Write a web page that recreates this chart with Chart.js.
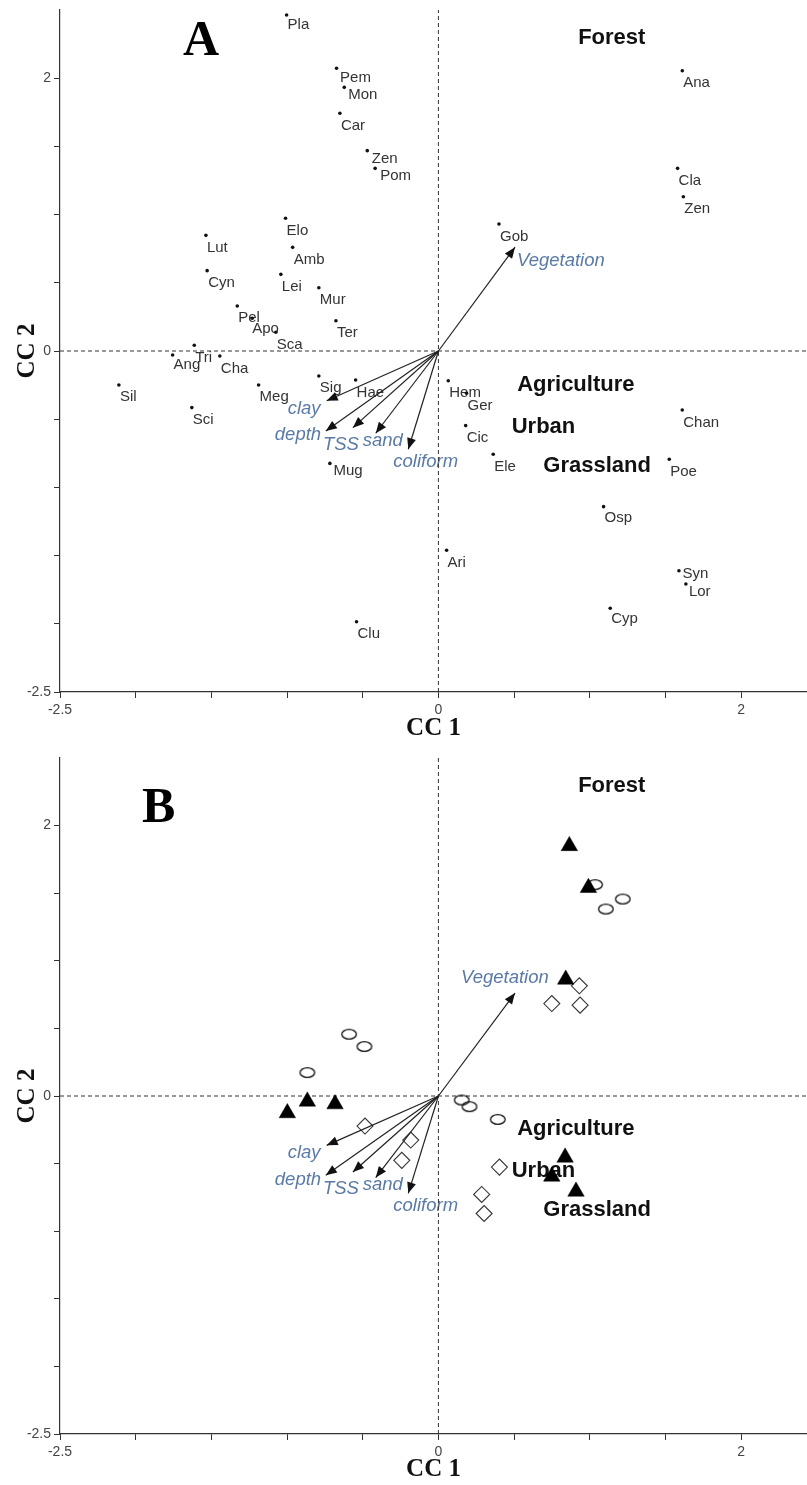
<!DOCTYPE html>
<html>
<head>
<meta charset="utf-8">
<script src="https://cdn.jsdelivr.net/npm/chart.js@4.4.1/dist/chart.umd.min.js"></script>
<style>
html,body{margin:0;padding:0;background:#fff;overflow:hidden;}
canvas{display:block;}
</style>
</head>
<body>
<canvas id="chartA" width="807" height="745"></canvas>
<canvas id="chartB" width="807" height="740"></canvas>
<script>
// ---------------- DATA ----------------
const axisTicks = [-2.5, -2, -1.5, -1, -0.5, 0, 0.5, 1, 1.5, 2];
const tickLabelValues = [-2.5, 0, 2];

// Panel A: species scores
const speciesNames = ['Pla','Pem','Mon','Car','Zen','Pom','Elo','Lut','Amb','Cyn','Lei','Mur','Pel','Apo','Sca','Ter','Tri','Ang','Cha','Sil','Sci','Meg','Sig','Hae','Mug','Clu','Ana','Cla','Zen','Gob','Hem','Ger','Cic','Ele','Chan','Poe','Osp','Ari','Syn','Lor','Cyp'];
const speciesCC1 = [-1.003,-0.673,-0.622,-0.651,-0.470,-0.418,-1.010,-1.536,-0.963,-1.528,-1.041,-0.790,-1.329,-1.230,-1.074,-0.677,-1.613,-1.756,-1.444,-2.111,-1.629,-1.188,-0.790,-0.547,-0.717,-0.541,1.611,1.580,1.618,0.400,0.065,0.186,0.180,0.362,1.611,1.525,1.091,0.054,1.589,1.635,1.135];
const speciesCC2 = [2.463,2.073,1.933,1.743,1.469,1.339,0.973,0.848,0.760,0.589,0.562,0.464,0.330,0.240,0.137,0.222,0.042,-0.029,-0.037,-0.249,-0.415,-0.249,-0.183,-0.213,-0.824,-1.985,2.055,1.339,1.131,0.931,-0.218,-0.310,-0.547,-0.757,-0.433,-0.794,-1.141,-1.461,-1.611,-1.708,-1.886];

// Environmental vectors (both panels)
const envNames = ['Vegetation','clay','depth','TSS','sand','coliform'];
const envCC1 = [0.506,-0.738,-0.744,-0.565,-0.414,-0.199];
const envCC2 = [0.761,-0.365,-0.586,-0.562,-0.603,-0.720];

// Land-use labels
const landUseNames = ['Forest','Agriculture','Urban','Grassland'];
const landUseCC1 = [0.923,0.520,0.484,0.693];
const landUseCC2 = [2.250,-0.290,-0.600,-0.890];

// Panel B: site scores
const triangleCC1 = [0.865,0.991,0.841,-0.866,-0.683,-0.998,0.837,0.749,0.909];
const triangleCC2 = [1.850,1.540,0.862,-0.040,-0.060,-0.126,-0.454,-0.595,-0.706];
const ellipseCC1 = [1.035,1.218,1.106,-0.590,-0.489,-0.866,0.154,0.205,0.392];
const ellipseCC2 = [1.563,1.457,1.383,0.457,0.366,0.173,-0.030,-0.079,-0.173];
const diamondCC1 = [0.931,0.749,0.936,-0.485,-0.183,-0.242,0.403,0.286,0.302];
const diamondCC2 = [0.815,0.684,0.672,-0.222,-0.326,-0.476,-0.526,-0.728,-0.869];

// ---------------- STYLE ----------------
const X_MIN = -2.5, X_MAX = 2.435, Y_MIN = -2.5, Y_MAX = 2.5;
const FONT_SANS = "'Liberation Sans', Arial, Helvetica, sans-serif";
const FONT_SERIF = "'Liberation Serif', 'Times New Roman', Times, serif";
const ENV_COLOR = '#5a7aa6';

const speciesNudge = {
  'Pla':[1,14], 'Pem':[3.5,14], 'Mon':[4,11.5], 'Zen':[4.5,12.5], 'Pom':[5,11.5],
  'Syn':[3.5,7.5], 'Lor':[3,12], 'Mug':[3.5,12], 'Ang':[1,14.5], 'Apo':[0,14.5],
  'Osp':[1,15], 'Cyp':[1,15]
};
const speciesDefaultNudge = [1, 16.5];

const envOffsetsShared = {clay:[-39,13], depth:[-51,9.5], TSS:[-30,22], sand:[-13,12.5], coliform:[-15,18]};

const panels = {
  A: {id:'A', canvas:'chartA', top:10, xAxisBox:53, xTitlePad:1, letter:'A', letterPos:[183,55],
      envOffsets: Object.assign({Vegetation:[2,19]}, envOffsetsShared), species:true},
  B: {id:'B', canvas:'chartB', top:13, xAxisBox:51, xTitlePad:0, letter:'B', letterPos:[142,77],
      envOffsets: Object.assign({Vegetation:[-54,-10]}, envOffsetsShared), species:false}
};

function pts(xs, ys){ return xs.map((x,i)=>({x:x, y:ys[i]})); }

function makeEllipseSprite(){
  const c = document.createElement('canvas');
  c.width = 18; c.height = 13;
  const g = c.getContext('2d');
  g.strokeStyle = '#111'; g.lineWidth = 1.3;
  g.beginPath(); g.ellipse(9, 6.5, 7.3, 4.8, 0, 0, Math.PI*2); g.stroke();
  return c;
}

const arrowHeads = {
  id:'arrowHeads',
  afterDatasetsDraw(chart){
    const ctx = chart.ctx;
    chart.data.datasets.forEach((ds,i)=>{
      if(!ds.isArrow) return;
      const p = chart.getDatasetMeta(i).data;
      const a = p[0], b = p[1];
      const ang = Math.atan2(b.y-a.y, b.x-a.x);
      const L = 11, W = 4.5;
      const c = Math.cos(ang), s = Math.sin(ang);
      ctx.save();
      ctx.fillStyle = '#111';
      ctx.beginPath();
      ctx.moveTo(b.x, b.y);
      ctx.lineTo(b.x - L*c + W*s, b.y - L*s - W*c);
      ctx.lineTo(b.x - L*c - W*s, b.y - L*s + W*c);
      ctx.closePath();
      ctx.fill();
      ctx.restore();
    });
  }
};

function makeTextPlugin(panel){
  return {
    id:'panelText' + panel.id,
    beforeDatasetsDraw(chart){
      const ctx = chart.ctx, x = chart.scales.x, y = chart.scales.y;
      ctx.save();
      ctx.textAlign = 'left';
      ctx.textBaseline = 'alphabetic';
      // panel letter
      ctx.fillStyle = '#000';
      ctx.font = 'bold 50px ' + FONT_SERIF;
      ctx.fillText(panel.letter, panel.letterPos[0], panel.letterPos[1]);
      // land use labels
      ctx.fillStyle = '#111';
      ctx.font = 'bold 22px ' + FONT_SANS;
      landUseNames.forEach((n,i)=>{
        ctx.fillText(n, x.getPixelForValue(landUseCC1[i]), y.getPixelForValue(landUseCC2[i]));
      });
      // environmental labels
      ctx.fillStyle = ENV_COLOR;
      ctx.font = 'italic 18.5px ' + FONT_SANS;
      envNames.forEach((n,i)=>{
        const off = panel.envOffsets[n];
        ctx.fillText(n, x.getPixelForValue(envCC1[i]) + off[0], y.getPixelForValue(envCC2[i]) + off[1]);
      });
      // species labels
      if(panel.species){
        ctx.fillStyle = '#333';
        ctx.font = '15px ' + FONT_SANS;
        const seen = new Set();
        speciesNames.forEach((n,i)=>{
          const key = seen.has(n) ? n + '#2' : n;
          seen.add(n);
          const off = speciesNudge[key] || speciesDefaultNudge;
          ctx.fillText(n, x.getPixelForValue(speciesCC1[i]) + off[0], y.getPixelForValue(speciesCC2[i]) + off[1]);
        });
      }
      ctx.restore();
    }
  };
}

function scalesFor(panel){
  const tickCb = (v)=> tickLabelValues.includes(v) ? String(v) : '';
  return {
    x: {
      type:'linear', position:'bottom', min:X_MIN, max:X_MAX,
      afterBuildTicks(s){ s.ticks = axisTicks.map(v=>({value:v})); },
      afterFit(s){ s.height = panel.xAxisBox; s.paddingLeft = 0; s.paddingRight = 0; },
      grid:{drawOnChartArea:false, drawTicks:true, tickLength:6, color:'#333', lineWidth:1},
      border:{display:true, color:'#333', width:1.2},
      ticks:{autoSkip:false, maxRotation:0, padding:4, color:'#444', font:{family:FONT_SANS, size:14}, callback:tickCb},
      title:{display:true, text:'CC 1', color:'#111', font:{family:FONT_SERIF, size:25, weight:'bold'}, padding:{top:0, bottom:panel.xTitlePad}}
    },
    y: {
      type:'linear', position:'left', min:Y_MIN, max:Y_MAX,
      afterBuildTicks(s){ s.ticks = axisTicks.map(v=>({value:v})); },
      afterFit(s){ s.width = 60; s.paddingTop = 0; s.paddingBottom = 0; },
      grid:{drawOnChartArea:false, drawTicks:true, tickLength:6, color:'#333', lineWidth:1},
      border:{display:true, color:'#333', width:1.2},
      ticks:{autoSkip:false, padding:3, color:'#444', font:{family:FONT_SANS, size:14}, callback:tickCb},
      title:{display:true, text:'CC 2', color:'#111', font:{family:FONT_SERIF, size:25, weight:'bold'}, padding:{top:13, bottom:0}}
    }
  };
}

function arrowDatasets(){
  return envNames.map((n,i)=>({
    label:n, isArrow:true, showLine:true,
    data:[{x:0,y:0},{x:envCC1[i], y:envCC2[i]}],
    borderColor:'#222', borderWidth:1.2, pointRadius:0, pointHoverRadius:0, fill:false
  }));
}

function zeroLineDatasets(){
  const style = {showLine:true, borderColor:'#333', borderWidth:1, borderDash:[4,3], pointRadius:0, pointHoverRadius:0, fill:false};
  return [
    Object.assign({label:'zeroX', data:[{x:0,y:Y_MIN},{x:0,y:Y_MAX}]}, style),
    Object.assign({label:'zeroY', data:[{x:X_MIN,y:0},{x:X_MAX,y:0}]}, style)
  ];
}

function commonOptions(panel){
  return {
    responsive:false, maintainAspectRatio:false, animation:false, events:[],
    layout:{autoPadding:false, padding:{top:panel.top, left:0, right:0, bottom:0}},
    plugins:{legend:{display:false}, tooltip:{enabled:false}},
    scales: scalesFor(panel)
  };
}

// Panel A
new Chart(document.getElementById(panels.A.canvas), {
  type:'scatter',
  data:{datasets:[
    {label:'species', data:pts(speciesCC1, speciesCC2), pointRadius:1.8, pointHoverRadius:1.8, backgroundColor:'#111', borderWidth:0},
    ...arrowDatasets(),
    ...zeroLineDatasets()
  ]},
  options: commonOptions(panels.A),
  plugins:[arrowHeads, makeTextPlugin(panels.A)]
});

// Panel B
const ellipseSprite = makeEllipseSprite();
new Chart(document.getElementById(panels.B.canvas), {
  type:'scatter',
  data:{datasets:[
    {label:'triangles', data:pts(triangleCC1, triangleCC2), pointStyle:'triangle', pointRadius:9.5, pointHoverRadius:9.5, backgroundColor:'#000', borderColor:'#000', borderWidth:0.5},
    ...arrowDatasets(),
    {label:'ellipses', data:pts(ellipseCC1, ellipseCC2), pointStyle:ellipseSprite, pointRadius:7, pointHoverRadius:7},
    {label:'diamonds', data:pts(diamondCC1, diamondCC2), pointStyle:'rectRot', pointRadius:8, pointHoverRadius:8, backgroundColor:'rgba(0,0,0,0)', borderColor:'#333', borderWidth:1.1},
    ...zeroLineDatasets()
  ]},
  options: commonOptions(panels.B),
  plugins:[arrowHeads, makeTextPlugin(panels.B)]
});
</script>
</body>
</html>
